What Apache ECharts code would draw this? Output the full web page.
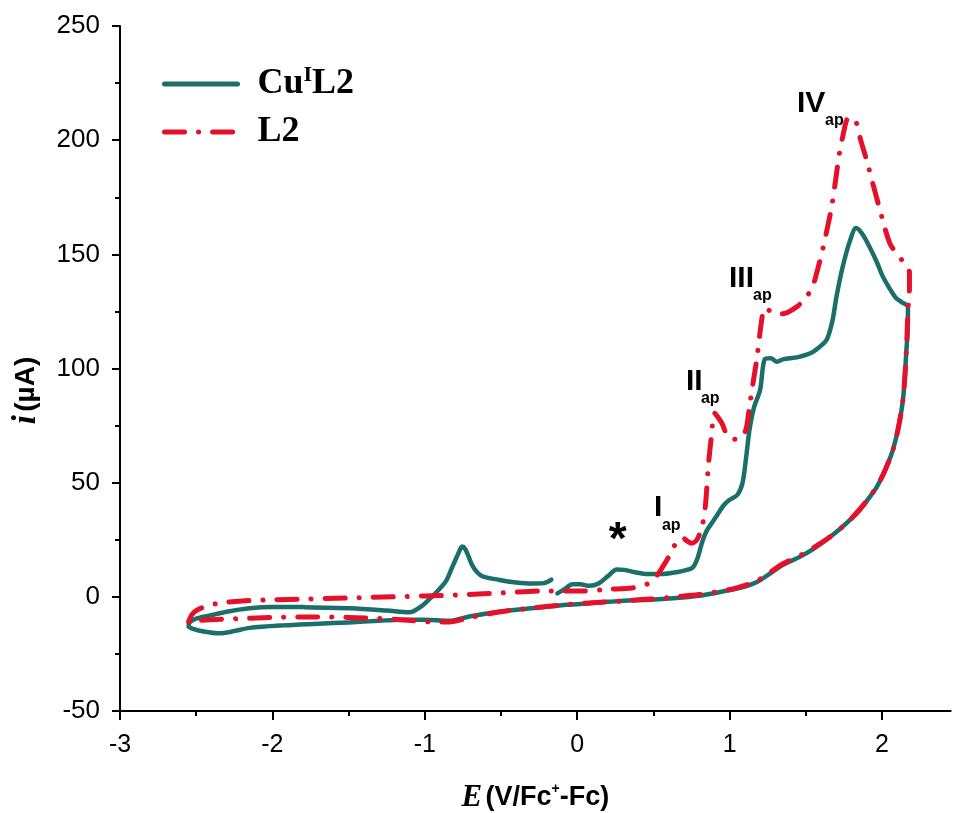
<!DOCTYPE html>
<html>
<head>
<meta charset="utf-8">
<script src="https://cdn.jsdelivr.net/npm/echarts@6/dist/echarts.min.js"></script>
<style>html,body{margin:0;padding:0;background:#fff}#c{width:953px;height:813px}</style>
</head>
<body>
<div id="c"></div>
<script>
// ---- data ----
const seriesNames = ['CuIL2', 'L2'];

// Cu(I)L2 cyclic voltammogram, in sweep order (E in V vs Fc+/Fc, i in µA)
const cuE = [-0.13,-0.08,-0.03,0.02,0.08,0.14,0.20,0.26,0.31,0.38,0.46,0.55,0.65,0.72,0.76,0.79,0.82,0.85,0.88,0.92,0.96,1.00,1.05,1.085,1.11,1.13,1.16,1.20,1.23,1.27,1.31,1.35,1.45,1.54,1.60,1.64,1.675,1.70,1.74,1.79,1.83,1.87,1.92,1.97,2.00,2.05,2.09,2.13,2.17,
  2.17,2.16,2.14,2.11,2.07,2.03,2.00,1.96,1.92,1.86,1.79,1.72,1.66,1.55,1.46,1.35,1.25,1.18,1.10,1.02,0.90,0.80,0.65,0.475,0.36,0.20,0.00,-0.07,-0.30,-0.51,-0.70,-0.84,-1.00,-1.16,-1.30,-1.50,-1.70,-1.93,-2.15,-2.25,-2.35,-2.45,-2.52,-2.55,
  -2.54,-2.50,-2.41,-2.30,-2.15,-2.00,-1.80,-1.49,-1.25,-1.10,-1.03,-0.97,-0.91,-0.86,-0.82,-0.78,-0.755,-0.735,-0.715,-0.69,-0.66,-0.62,-0.51,-0.40,-0.30,-0.22,-0.17];
const cuI = [1.5,3.5,5.5,5.5,4.8,5.8,9,12,11.8,10.8,10,10,10.8,11.8,13,17,24,29,32,36,40,42.5,44.6,50,62,73,83,90.6,104,104.5,103,104,105,107,110,113,121,131,144,156,161.5,159,153,146,141,135,131,129,127,
  120,108,88,75,64,57,52.5,47.5,43.8,38.5,33.7,29.5,26.3,21,17.5,14,9.5,6.5,4.5,3.2,1.6,0.5,-0.5,-1.3,-1.5,-2.2,-3.2,-3.5,-5,-6.5,-8.5,-10.5,-10,-10,-10.5,-11.2,-11.8,-12.5,-13.6,-15,-16,-15.2,-14,-13,
  -11,-9.5,-8.2,-6.5,-5,-4.4,-4.5,-5,-6,-6.8,-4.5,-1,3,7,13,19,22,21,18,14,11,9,7.4,6.3,5.8,6,7.5];

// L2 cyclic voltammogram, in sweep order
const l2E = [-2.55,-2.53,-2.50,-2.43,-2.35,-2.20,-2.00,-1.80,-1.50,-1.20,-1.00,-0.80,-0.50,-0.20,0.05,0.20,0.36,0.43,0.475,0.52,0.56,0.60,0.63,0.66,0.69,0.72,0.75,0.78,0.80,0.82,0.84,0.86,0.88,0.90,0.92,0.95,0.99,1.046,1.09,1.11,1.13,1.15,1.18,1.21,1.23,1.27,1.31,1.35,1.44,1.50,1.545,1.58,1.61,1.67,1.72,1.75,1.77,1.80,1.83,1.86,1.90,1.98,2.05,2.10,2.13,2.18,
  2.18,2.17,2.16,2.14,2.11,2.07,2.00,1.92,1.79,1.66,1.55,1.46,1.35,1.25,1.18,1.10,1.02,0.90,0.80,0.65,0.475,0.30,0.05,-0.20,-0.50,-0.70,-0.84,-0.95,-1.16,-1.30,-1.50,-1.80,-2.00,-2.20,-2.41,-2.50,-2.55];
const l2I = [-11,-8,-6,-4,-2.8,-1.8,-1.3,-1,-0.5,0,0.4,0.8,1.7,2.6,2.6,3.3,3.9,5,6.1,9,13,17.5,21.5,24.5,26,24.5,23.5,24.5,27,31,39,57,70,80.5,79,76,70,69,71,74,83,92,105,121,126.5,125,124,124,127,131,136,144,152,171,194,204,209,210,208,200,191,171,155,150,147.5,142,
  135,125,108,88,75,64,52.5,43.8,33.7,26.3,21.5,18,14.5,10,7,5,3.5,2,1,0,-1,-1.8,-2.8,-4.2,-6.5,-9,-11,-11,-10,-9.5,-9,-8.8,-9,-9.5,-10,-10.5,-11];

// peak annotations: main numeral and "ap" subscript (anchor = lower-left of text, data units)
const peakNames = ['I', 'II', 'III', 'IV'];
const peakE = [0.504, 0.714, 0.996, 1.442];
const peakI = [32.3, 87.8, 132.6, 209.6];
const subText = 'ap';
const subE = [0.556, 0.812, 1.154, 1.626];
const subI = [27.9, 83.4, 128.4, 205.2];
const starE = 0.266, starI = 24.1;

const xMajor = [-3, -2, -1, 0, 1, 2];
const xMinor = [-2.5, -1.5, -0.5, 0.5, 1.5];

// ---- chart ----
const zip = (a, b) => a.map((v, k) => [v, b[k]]);
const TEAL = '#1a6f6b', RED = '#e5112b';
const SANS = 'Liberation Sans', SERIF = 'Liberation Serif';

const annotData = [];
peakNames.forEach((n, k) => {
  annotData.push({ value: [peakE[k], peakI[k]], label: { formatter: '{m|' + n + '}' } });
  annotData.push({ value: [subE[k], subI[k]], label: { formatter: '{s|' + subText + '}' } });
});
annotData.push({
  value: [starE, starI],
  label: { formatter: '{st|*}', align: 'center', verticalAlign: 'middle' }
});

const chart = echarts.init(document.getElementById('c'), null, { renderer: 'canvas' });
chart.setOption({
  backgroundColor: '#fff',
  animation: false,
  grid: { left: 120, right: 2.4, top: 26, bottom: 102, containLabel: false, outerBoundsMode: 'none' },
  legend: {
    data: seriesNames,
    orient: 'vertical',
    left: 162, top: 64,
    padding: 0,
    itemWidth: 73, itemHeight: 20, itemGap: 12,
    lineStyle: { width: 5 },
    itemStyle: { color: 'rgba(0,0,0,0)', borderWidth: 0, opacity: 0 },
    selectedMode: false,
    formatter: function (name) {
      return name === 'CuIL2' ? '{n|Cu}{s|I}{n|L2}' : '{n|L2}';
    },
    textStyle: {
      padding: [0, 0, 0, 15],
      rich: {
        n: { fontFamily: SERIF, fontWeight: 'bold', fontSize: 36, lineHeight: 40, color: '#000' },
        s: { fontFamily: SERIF, fontWeight: 'bold', fontSize: 22, lineHeight: 22, verticalAlign: 'top', color: '#000' }
      }
    }
  },
  xAxis: [{
    type: 'value', min: -3, max: 2.45,
    position: 'bottom',
    name: '{it|E} {b|(V/Fc}{sp|+}{b|-Fc)}',
    nameLocation: 'middle', nameGap: 71,
    nameTextStyle: {
      rich: {
        it: { fontFamily: SERIF, fontStyle: 'italic', fontWeight: 'bold', fontSize: 31, lineHeight: 32, color: '#000' },
        b: { fontFamily: SANS, fontWeight: 'bold', fontSize: 27, lineHeight: 32, color: '#000' },
        sp: { fontFamily: SANS, fontWeight: 'bold', fontSize: 14, lineHeight: 14, verticalAlign: 'top', color: '#000' }
      }
    },
    axisLine: { show: true, onZero: false, lineStyle: { color: '#000', width: 2 } },
    axisTick: { show: true, inside: false, length: 9, customValues: xMajor, lineStyle: { color: '#000', width: 2 } },
    axisLabel: { show: true, customValues: xMajor, margin: 22, fontFamily: SANS, fontSize: 25, color: '#000' },
    splitLine: { show: false }
  }, {
    type: 'value', min: -3, max: 2.45,
    position: 'bottom',
    axisLine: { show: false, onZero: false },
    axisTick: { show: true, inside: false, length: 5, customValues: xMinor, lineStyle: { color: '#000', width: 2 } },
    axisLabel: { show: false },
    splitLine: { show: false }
  }],
  yAxis: {
    type: 'value', min: -50, max: 250, interval: 50,
    name: '{it|i} {b|(µA)}',
    nameLocation: 'middle', nameGap: 78, nameRotate: 90,
    nameTextStyle: {
      padding: [0, 44, 0, 0],
      rich: {
        it: { fontFamily: SERIF, fontStyle: 'italic', fontWeight: 'bold', fontSize: 33, lineHeight: 32, color: '#000' },
        b: { fontFamily: SANS, fontWeight: 'bold', fontSize: 28, lineHeight: 32, color: '#000' }
      }
    },
    axisLine: { show: true, onZero: false, lineStyle: { color: '#000', width: 2 } },
    axisTick: { show: true, inside: false, length: 8, lineStyle: { color: '#000', width: 2 } },
    minorTick: { show: true, splitNumber: 2, length: 5, lineStyle: { color: '#000', width: 2 } },
    axisLabel: { margin: 20, fontFamily: SANS, fontSize: 26, color: '#000' },
    splitLine: { show: false },
    minorSplitLine: { show: false }
  },
  series: [{
    name: seriesNames[0], type: 'line',
    data: zip(cuE, cuI),
    showSymbol: false, symbol: 'none', smooth: 0.3,
    lineStyle: { color: TEAL, width: 4.5, cap: 'round', join: 'round' },
    itemStyle: { color: TEAL },
    z: 2, silent: true
  }, {
    name: seriesNames[1], type: 'line',
    data: zip(l2E, l2I),
    showSymbol: false, symbol: 'none', smooth: 0.3,
    lineStyle: { color: RED, width: 5, type: [20, 14, 0.1, 14], cap: 'round', join: 'round' },
    itemStyle: { color: RED },
    z: 3, silent: true
  }, {
    name: 'annot', type: 'scatter',
    data: annotData,
    symbolSize: 0, silent: true, z: 5,
    itemStyle: { color: '#000', opacity: 1 },
    label: {
      show: true, position: [0, 0], align: 'left', verticalAlign: 'bottom', color: '#000', opacity: 1,
      rich: {
        m: { fontFamily: SANS, fontWeight: 'bold', fontSize: 30, lineHeight: 30, color: '#000' },
        s: { fontFamily: SANS, fontWeight: 'bold', fontSize: 16, lineHeight: 16, color: '#000' },
        st: { fontFamily: SANS, fontWeight: 'bold', fontSize: 46, lineHeight: 46, color: '#000' }
      }
    },
    emphasis: { disabled: true }
  }]
});
</script>
</body>
</html>
